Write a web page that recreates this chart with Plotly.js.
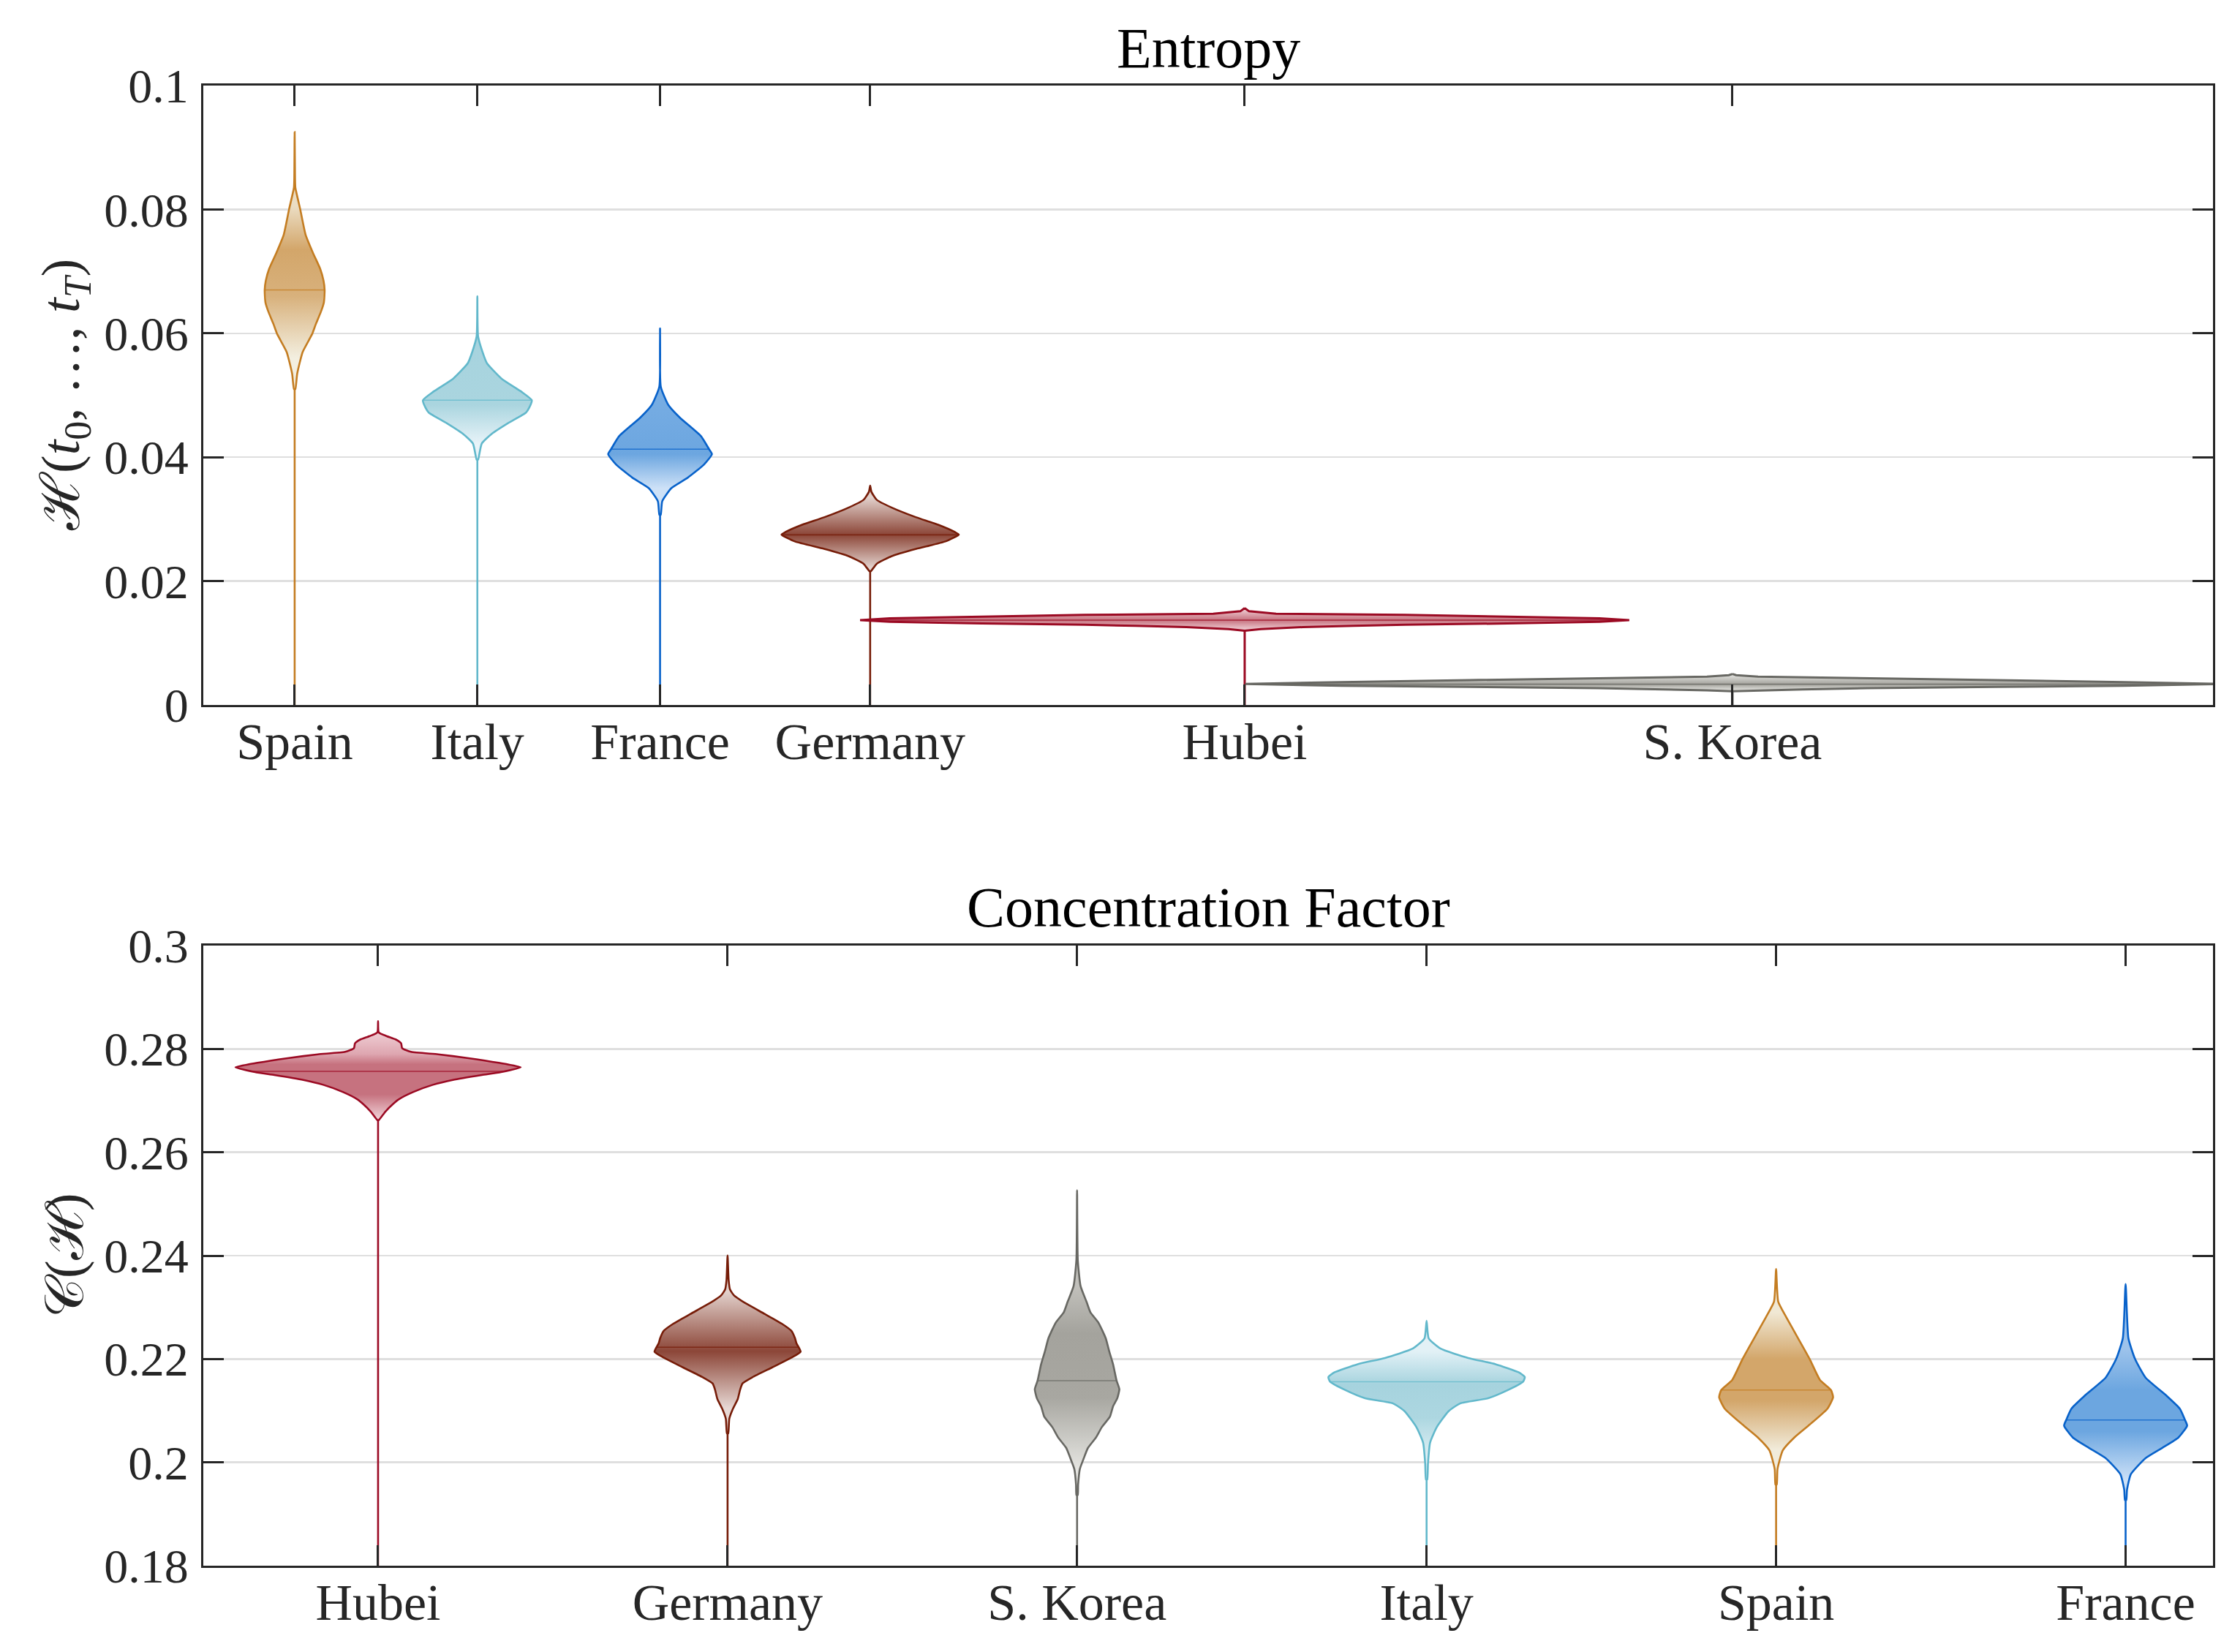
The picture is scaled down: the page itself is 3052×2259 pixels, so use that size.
<!DOCTYPE html>
<html><head><meta charset="utf-8">
<script src="https://cdn.plot.ly/plotly-3.0.1.min.js"></script>
<style>html,body{margin:0;padding:0;background:#fff}#chart{width:3052px;height:2259px}</style>
</head><body><div id="chart"></div>
<script>
// ================= DATA =================
// --- Entropy panel ---
const entropyCategories = ['Spain', 'Italy', 'France', 'Germany', 'Hubei', 'S. Korea'];
const entropyPositions = [1, 2, 3, 4.15, 6.2, 8.87];
const entropyMedians = [0.0670, 0.0492, 0.0413, 0.02746, 0.0137, 0.00335];
const entropyTickVals = [0, 0.02, 0.04, 0.06, 0.08, 0.1];
const entropyTickText = ['0', '0.02', '0.04', '0.06', '0.08', '0.1'];

// violin profiles: value levels (top -> bottom) and density half-widths (x units);
// the last level is the lower end of the thin tail
const entSpainY = [0.0925, 0.0850, 0.0835, 0.0801, 0.0759, 0.0730, 0.0704, 0.0685, 0.0670, 0.0650, 0.0635, 0.0615, 0.0599, 0.0570, 0.0535, 0.0510, 0];
const entSpainW = [0, 0.002, 0.004, 0.030, 0.060, 0.100, 0.140, 0.158, 0.164, 0.160, 0.144, 0.116, 0.096, 0.044, 0.014, 0.004, 0];
const entItalyY = [0.0660, 0.0595, 0.0570, 0.0552, 0.0527, 0.0506, 0.0492, 0.0480, 0.0472, 0.0455, 0.0438, 0.0422, 0.0396, 0];
const entItalyW = [0, 0.004, 0.028, 0.052, 0.132, 0.240, 0.298, 0.284, 0.266, 0.168, 0.080, 0.024, 0.004, 0];
const entFranceY = [0.0608, 0.0514, 0.0485, 0.0464, 0.0434, 0.0413, 0.0405, 0.0388, 0.0367, 0.0350, 0.0329, 0.0307, 0];
const entFranceW = [0, 0.004, 0.044, 0.108, 0.224, 0.268, 0.284, 0.240, 0.152, 0.062, 0.012, 0.004, 0];
const entGermanyY = [0.0354, 0.0344, 0.0331, 0.0319, 0.0303, 0.0291, 0.0279, 0.0275, 0.0264, 0.0252, 0.0240, 0.0228, 0.0216, 0];
const entGermanyW = [0, 0.007, 0.037, 0.116, 0.252, 0.372, 0.465, 0.485, 0.412, 0.252, 0.116, 0.036, 0.004, 0];
const entHubeiY = [0.01564, 0.01513, 0.01474, 0.01454, 0.01426, 0.01399, 0.01369, 0.01344, 0.01316, 0.01296, 0.01277, 0.01257, 0.01225, 0.01198, 0];
const entHubeiW = [0, 0.024, 0.172, 0.877, 1.438, 1.942, 2.105, 1.942, 1.438, 0.877, 0.597, 0.320, 0.088, 0, 0];
const entKoreaY = [0.00500, 0.00481, 0.00457, 0.00433, 0.00402, 0.00370, 0.00339, 0.00311, 0.00292, 0.00272, 0.00252, 0.00236, 0.00221, 0];
const entKoreaW = [0, 0.020, 0.140, 0.737, 1.438, 2.139, 2.667, 2.139, 1.438, 0.737, 0.384, 0.140, 0, 0];

// --- Concentration Factor panel ---
const concCategories = ['Hubei', 'Germany', 'S. Korea', 'Italy', 'Spain', 'France'];
const concPositions = [1, 2, 3, 4, 5, 6];
const concMedians = [0.27566, 0.22227, 0.2158, 0.2156, 0.2140, 0.2082];
const concTickVals = [0.18, 0.2, 0.22, 0.24, 0.26, 0.28, 0.3];
const concTickText = ['0.18', '0.2', '0.22', '0.24', '0.26', '0.28', '0.3'];

const conHubeiY = [0.28537, 0.28320, 0.28249, 0.28178, 0.28107, 0.28014, 0.27943, 0.27896, 0.27825, 0.27731, 0.27646, 0.27551, 0.27495, 0.27400, 0.27306, 0.27165, 0.27024, 0.26929, 0.26787, 0.26622, 0.18];
const conHubeiW = [0, 0.002, 0.024, 0.052, 0.066, 0.069, 0.094, 0.172, 0.255, 0.345, 0.408, 0.352, 0.297, 0.214, 0.157, 0.100, 0.059, 0.042, 0.021, 0.002, 0];
const conGermanyY = [0.24004, 0.23533, 0.23345, 0.23226, 0.23084, 0.22872, 0.22684, 0.22542, 0.22401, 0.22306, 0.22142, 0.22023, 0.21835, 0.21647, 0.21528, 0.21410, 0.21222, 0.21032, 0.20844, 0.20561, 0.18];
const conGermanyW = [0, 0.003, 0.007, 0.019, 0.050, 0.106, 0.155, 0.183, 0.193, 0.197, 0.209, 0.182, 0.127, 0.071, 0.043, 0.036, 0.029, 0.015, 0.005, 0.002, 0];
const conKoreaY = [0.25266, 0.23917, 0.23411, 0.23108, 0.22906, 0.22704, 0.22401, 0.22148, 0.21896, 0.21581, 0.21416, 0.21239, 0.21086, 0.20885, 0.20683, 0.20480, 0.20278, 0.20076, 0.19873, 0.19571, 0.19368, 0.18];
const conKoreaW = [0, 0.002, 0.010, 0.027, 0.038, 0.061, 0.082, 0.092, 0.103, 0.113, 0.121, 0.115, 0.103, 0.094, 0.071, 0.054, 0.031, 0.019, 0.008, 0.003, 0.002, 0];
const conItalyY = [0.2274, 0.2240, 0.2220, 0.2202, 0.2190, 0.2174, 0.2165, 0.2156, 0.2139, 0.2124, 0.2114, 0.2099, 0.2068, 0.2038, 0.1998, 0.1967, 0.18];
const conItalyW = [0, 0.006, 0.040, 0.119, 0.197, 0.264, 0.281, 0.276, 0.230, 0.176, 0.096, 0.063, 0.029, 0.010, 0.004, 0.002, 0];
const conSpainY = [0.2374, 0.2311, 0.2281, 0.2240, 0.2200, 0.2159, 0.2140, 0.2126, 0.2104, 0.2073, 0.2048, 0.2023, 0.1987, 0.1957, 0.18];
const conSpainW = [0, 0.006, 0.029, 0.063, 0.096, 0.126, 0.157, 0.163, 0.147, 0.096, 0.052, 0.019, 0.004, 0.002, 0];
const conFranceY = [0.2345, 0.2240, 0.2200, 0.2164, 0.2129, 0.2104, 0.2082, 0.2071, 0.2048, 0.2028, 0.2008, 0.1977, 0.1947, 0.1927, 0.18];
const conFranceW = [0, 0.008, 0.027, 0.057, 0.117, 0.155, 0.170, 0.176, 0.151, 0.105, 0.057, 0.015, 0.004, 0.002, 0];

// ================= STYLE =================
const countryStyle = {
  'Spain':    {line: [196, 125, 34],  dark: [211, 166, 106], light: [243, 239, 224]},
  'Italy':    {line: [98, 184, 203],  dark: [166, 211, 222], light: [236, 246, 250]},
  'France':   {line: [8, 98, 202],    dark: [108, 166, 224], light: [216, 231, 249]},
  'Germany':  {line: [118, 28, 8],    dark: [140, 70, 56],   light: [236, 224, 220]},
  'Hubei':    {line: [155, 10, 35],   dark: [198, 114, 127], light: [245, 218, 224]},
  'S. Korea': {line: [104, 104, 99],  dark: [164, 163, 157], light: [236, 236, 232]}
};
// gradient stops [value level, darkness 0..1]
const entGrad = [
  [[0.056, 0.0], [0.0660, 0.85], [0.0735, 1.0], [0.0805, 0.25]],
  [[0.042, 0.05], [0.0485, 0.95], [0.060, 1.0]],
  [[0.035, 0.1], [0.0405, 1.0], [0.050, 0.9]],
  [[0.0222, 0.1], [0.0275, 1.0], [0.0335, 0.1]],
  [[0.0121, 0.1], [0.0137, 1.0], [0.0155, 0.1]],
  [[0.0023, 0.1], [0.00335, 1.0], [0.0049, 0.1]]
];
const conGrad = [
  [[0.2665, 0.1], [0.2712, 1.0], [0.2770, 1.0], [0.2790, 0.5], [0.2835, 0.1]],
  [[0.2105, 0.05], [0.2215, 1.0], [0.2330, 0.1]],
  [[0.198, 0.05], [0.2125, 0.95], [0.2250, 1.0], [0.2340, 0.6]],
  [[0.200, 0.1], [0.2085, 0.9], [0.2150, 1.0], [0.2215, 0.15]],
  [[0.2025, 0.05], [0.2120, 1.0], [0.2200, 1.0], [0.2290, 0.1]],
  [[0.1965, 0.1], [0.2060, 1.0], [0.2140, 1.0], [0.2220, 0.55]]
];

const entProfiles = [[entSpainY, entSpainW], [entItalyY, entItalyW], [entFranceY, entFranceW],
  [entGermanyY, entGermanyW], [entHubeiY, entHubeiW], [entKoreaY, entKoreaW]];
const conProfiles = [[conHubeiY, conHubeiW], [conGermanyY, conGermanyW], [conKoreaY, conKoreaW],
  [conItalyY, conItalyW], [conSpainY, conSpainW], [conFranceY, conFranceW]];

function rgb(a) { return 'rgb(' + a.map(v => Math.round(v)).join(',') + ')'; }
function mix(l, d, m) { return rgb(l.map((v, i) => v + (d[i] - v) * m)); }
function widthAt(Y, W, y) {
  for (let i = 0; i < Y.length - 1; i++) {
    if (y <= Y[i] && y >= Y[i + 1]) {
      const t = (Y[i] - y) / (Y[i] - Y[i + 1] || 1);
      return W[i] + (W[i + 1] - W[i]) * t;
    }
  }
  return 0;
}

const traces = [];
function addViolins(cats, pos, meds, profiles, grads, xa, ya) {
  cats.forEach((name, k) => {
    const [Y, W] = profiles[k];
    const st = countryStyle[name];
    const c = pos[k];
    const n = Y.length - 1;           // body = levels 0..n-1, tail = level n-1 -> n
    const xs = [], ys = [];
    for (let i = 0; i < n; i++) { xs.push(c + W[i]); ys.push(Y[i]); }
    xs.push(c); ys.push(Y[n - 1]);
    for (let i = n - 1; i >= 0; i--) { xs.push(c - W[i]); ys.push(Y[i]); }
    const g = grads[k];
    const g0 = g[0][0], g1 = g[g.length - 1][0];
    const cs = g.map(([y, m]) => [(y - g0) / (g1 - g0), mix(st.light, st.dark, m)]);
    const wide = Math.max(...W) > 1;
    const lw = wide ? 3 : 2.6;
    // tail (thin line down to the minimum)
    traces.push({
      type: 'scatter', mode: 'lines', x: [c, c], y: [Y[n - 1], Y[n]], xaxis: xa, yaxis: ya,
      line: {color: rgb(st.line), width: lw}, hoverinfo: 'skip', showlegend: false
    });
    traces.push({
      type: 'scatter', mode: 'lines', x: xs, y: ys, xaxis: xa, yaxis: ya,
      fill: 'toself',
      fillgradient: {type: 'vertical', start: g0, stop: g1, colorscale: cs},
      line: {color: rgb(st.line), width: lw, shape: wide ? 'linear' : 'spline', smoothing: 0.5},
      hoverinfo: 'skip', showlegend: false
    });
    const hw = widthAt(Y, W, meds[k]);
    traces.push({
      type: 'scatter', mode: 'lines', x: [c - hw, c + hw], y: [meds[k], meds[k]],
      xaxis: xa, yaxis: ya,
      line: {color: rgb(st.line), width: 1.6}, opacity: 0.75,
      hoverinfo: 'skip', showlegend: false
    });
  });
}
addViolins(entropyCategories, entropyPositions, entropyMedians, entProfiles, entGrad, 'x', 'y');
addViolins(concCategories, concPositions, concMedians, conProfiles, conGrad, 'x2', 'y2');

const W0 = 3052, H0 = 2259;
const axL = 278, axR = 3026;
const FONT = 'Liberation Serif, DejaVu Serif, serif';
const TXT = '#262626';

function xAxis(vals, text, range) {
  return {
    domain: [axL / W0, axR / W0], range: range, tickvals: vals, ticktext: text,
    ticks: 'inside', ticklen: 28, tickwidth: 3, tickcolor: TXT,
    showline: true, linewidth: 3, linecolor: TXT, mirror: 'ticks',
    showgrid: false, zeroline: false, automargin: false,
    tickfont: {family: FONT, size: 70, color: TXT}, ticklabelstandoff: -13
  };
}
function yAxis(vals, text, range, top, bottom, anchor) {
  return {
    domain: [1 - bottom / H0, 1 - top / H0], range: range, tickvals: vals, ticktext: text,
    ticks: 'inside', ticklen: 28, tickwidth: 3, tickcolor: TXT,
    showline: true, linewidth: 3, linecolor: TXT, mirror: 'ticks',
    showgrid: true, gridcolor: 'rgb(223,223,223)', gridwidth: 2.5,
    zeroline: false, automargin: false, anchor: anchor,
    tickfont: {family: FONT, size: 66, color: TXT}, ticklabelstandoff: 4
  };
}

const layout = {
  width: W0, height: H0,
  margin: {l: 0, r: 0, t: 0, b: 0},
  paper_bgcolor: '#fff', plot_bgcolor: '#fff',
  showlegend: false, hovermode: false,
  xaxis: Object.assign(xAxis(entropyPositions, entropyCategories, [0.5, 11.5]), {anchor: 'y'}),
  yaxis: yAxis(entropyTickVals, entropyTickText, [0, 0.1], 117, 964, 'x'),
  xaxis2: Object.assign(xAxis(concPositions, concCategories, [0.5, 6.25]), {anchor: 'y2'}),
  yaxis2: yAxis(concTickVals, concTickText, [0.18, 0.3], 1293, 2141, 'x2'),
  annotations: [
    {text: 'Entropy', xref: 'paper', yref: 'paper', x: (axL + axR) / 2 / W0, y: 1 - 66 / H0,
     xanchor: 'center', yanchor: 'middle', showarrow: false, font: {family: FONT, size: 78, color: '#000'}},
    {text: 'Concentration Factor', xref: 'paper', yref: 'paper', x: (axL + axR) / 2 / W0, y: 1 - 1240 / H0,
     xanchor: 'center', yanchor: 'middle', showarrow: false, font: {family: FONT, size: 78, color: '#000'}},
    {text: 'ℋ(<i>t</i><sub>0</sub>, …, <i>t</i><sub><i>T</i></sub>)', xref: 'paper', yref: 'paper',
     x: 88 / W0, y: 1 - 540 / H0, textangle: -90, xanchor: 'center', yanchor: 'middle', showarrow: false,
     font: {family: FONT, size: 74, color: TXT}},
    {text: '𝒞(ℋ)', xref: 'paper', yref: 'paper',
     x: 88 / W0, y: 1 - 1717 / H0, textangle: -90, xanchor: 'center', yanchor: 'middle', showarrow: false,
     font: {family: FONT, size: 74, color: TXT}}
  ]
};

Plotly.newPlot('chart', traces, layout, {staticPlot: true, displayModeBar: false});
</script></body></html>
